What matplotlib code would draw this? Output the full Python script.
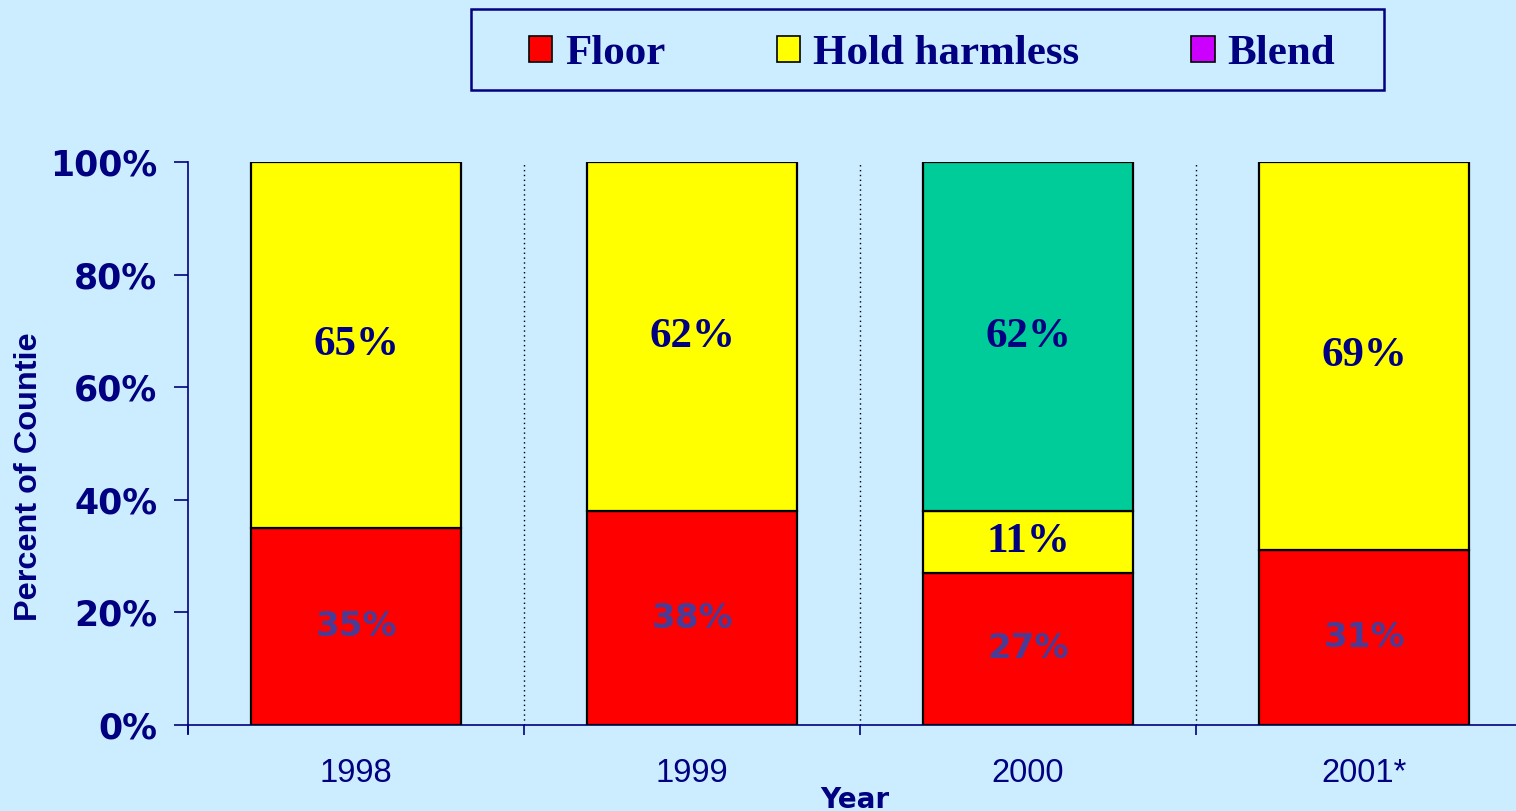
import matplotlib.pyplot as plt
from matplotlib.patches import Rectangle, Patch
from matplotlib.transforms import Bbox, TransformedBbox

# chart data
years = ['1998', '1999', '2000', '2001*']
floor = [35, 38, 27, 31]
hold_harmless = [65, 62, 11, 69]
other = [0, 0, 62, 0]          # green segment shown for 2000 only
y_ticks = [0, 20, 40, 60, 80, 100]
y_tick_labels = ['0%', '20%', '40%', '60%', '80%', '100%']
legend_names = ['Floor', 'Hold harmless', 'Blend']

BG = '#CCECFF'
NAVY = '#000080'
RED = '#FF0000'
YELLOW = '#FFFF00'
GREEN = '#00CC99'
PURPLE = '#CC00FF'
W, H = 1516, 811

fig = plt.figure(figsize=(W / 100, H / 100), dpi=100, facecolor=BG)
# axes run past the right edge of the figure, like the original slide
ax = fig.add_axes([188 / W, (H - 725) / H, (1532 - 188) / W, (725 - 162) / H])
ax.set_facecolor(BG)

x = list(range(len(years)))
bw = 0.625
bottom2 = [f + h for f, h in zip(floor, hold_harmless)]
ax.bar(x, floor, bw, color=RED, edgecolor='black', linewidth=1.6, zorder=3)
ax.bar(x, hold_harmless, bw, bottom=floor, color=YELLOW, edgecolor='black',
       linewidth=1.6, zorder=3)
ax.bar(x, other, bw, bottom=bottom2, color=GREEN,
       edgecolor=['black' if v > 0 else 'none' for v in other],
       linewidth=1.6, zorder=3)

serif_lbl = dict(family='Liberation Serif', weight='bold', fontsize=31,
                 color=NAVY, ha='center', va='center', zorder=5)
for i in x:
    ax.text(i, floor[i] / 2, f'{floor[i]}%', family='DejaVu Sans',
            weight='bold', fontsize=24.5, color='#4A3C96',
            ha='center', va='center', zorder=5)
    ax.text(i, floor[i] + hold_harmless[i] / 2, f'{hold_harmless[i]}%', **serif_lbl)
    if other[i] > 0:
        ax.text(i, bottom2[i] + other[i] / 2, f'{other[i]}%', **serif_lbl)

# dotted separators between years
for b in [0.5, 1.5, 2.5]:
    ax.axvline(b, color='black', ls=(0, (1, 2.5)), lw=1, zorder=2)

ax.set_xlim(-0.5, len(years) - 0.5)
ax.set_ylim(0, 100)
ax.set_yticks(y_ticks)
ax.set_yticklabels(y_tick_labels, family='DejaVu Sans', weight='bold',
                   fontsize=25, color=NAVY)
ax.set_xticks(x)
ax.set_xticklabels(years, family='Liberation Sans', fontsize=23.5, color=NAVY)
ax.set_xticks([i - 0.5 for i in range(len(years) + 1)], minor=True)
ax.tick_params(axis='x', which='major', length=0, pad=24)
ax.tick_params(axis='x', which='minor', length=7, width=1.2, color=NAVY)
ax.tick_params(axis='y', length=10, width=1.2, color=NAVY, pad=12)

for s in ['top', 'right']:
    ax.spines[s].set_visible(False)
for s in ['left', 'bottom']:
    ax.spines[s].set_color(NAVY)
    ax.spines[s].set_linewidth(1.2)
ax.spines['left'].set_bounds(-1.5, 100)

# axis titles
fig.text(855 / W, (H - 808) / H, 'Year', family='DejaVu Sans', weight='bold',
         fontsize=20, color=NAVY, ha='center', va='baseline')
yl = fig.text(29 / W, (H - 468) / H, 'Percent of Counties',
              family='Liberation Sans', weight='bold', fontsize=23.4,
              color=NAVY, rotation=90, ha='center', va='center')
yl.set_clip_box(TransformedBbox(Bbox([[0, 0], [0.2, (H - 333) / H]]),
                                fig.transFigure))
yl.set_clip_on(True)

# legend in a framed box at the top
fig.patches.append(Rectangle((471 / W, (H - 90) / H), (1384 - 471) / W, 81 / H,
                             transform=fig.transFigure, facecolor=BG,
                             edgecolor=NAVY, linewidth=1.8))
handles = [Patch(facecolor=c, edgecolor='black', linewidth=1.2)
           for c in [RED, YELLOW, PURPLE]]
leg = fig.legend(handles, legend_names, loc='center',
                 bbox_to_anchor=(932 / W, (H - 54) / H), ncol=3, frameon=False,
                 prop=dict(family='Liberation Serif', weight='bold', size=31),
                 handlelength=0.54, handleheight=0.56, handletextpad=0.3,
                 columnspacing=2.6, borderpad=0)
for t in leg.get_texts():
    t.set_color(NAVY)

fig.savefig('out.png', dpi=100, facecolor=BG)
